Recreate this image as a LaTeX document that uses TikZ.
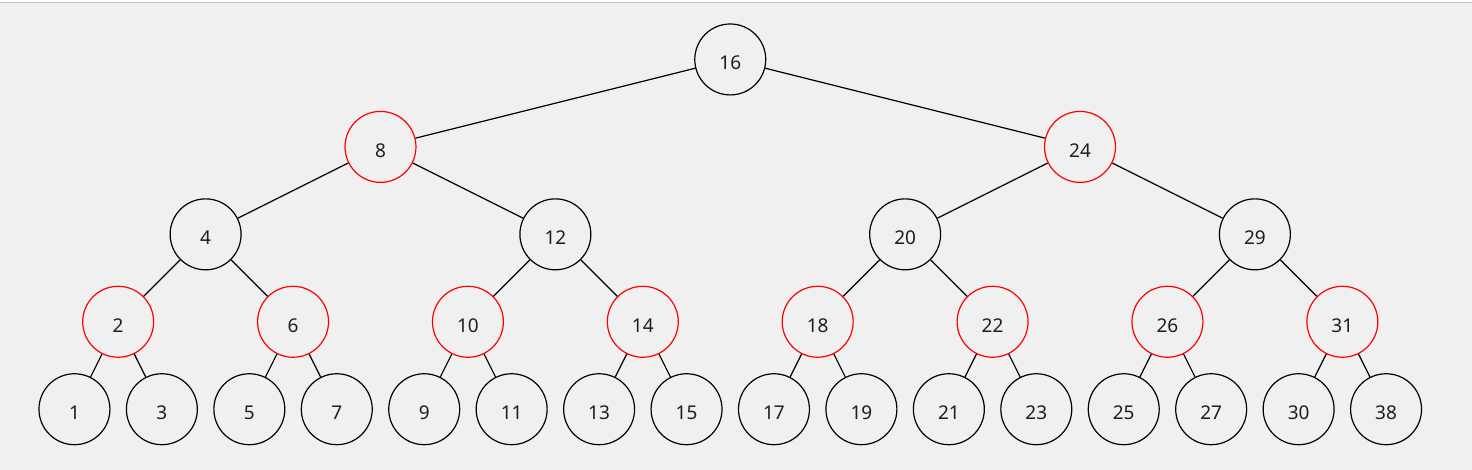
\documentclass[tikz,border=0pt]{standalone}
\usepackage{fontspec}
\setmainfont{Noto Sans}
\usepackage{tikz}

\definecolor{panel}{HTML}{F0F0F0}
\definecolor{rim}{HTML}{C0C0C0}
\definecolor{ink}{HTML}{1E1E1E}

\begin{document}
\begin{tikzpicture}[x=1pt, y=-1pt,
	key/.style={circle, draw=black, line width=1.2pt, minimum size=71pt, inner sep=0pt,
		text=ink, text height=21pt, text depth=0pt, font=\fontsize{19}{22}\selectfont},
	redkey/.style={key, draw=red},
	link/.style={line width=1.2pt, black}]

	% ---- parameters

	\def\leafx{74}
	\def\topy{59.5}
	\def\dx{87.5}
	\def\dy{87.5}

	% ---- frame

	\fill[white] (0,0) rectangle (1472,470);
	\fill[panel] (0,3.5) rectangle (1472,470);
	\draw[rim, line width=1pt] (0,3) -- (1472,3);
	\useasboundingbox (0,0) rectangle (1472,470);

	% ---- keys, level by level

	\foreach \d/\vals in {0/{16}, 1/{8,24}, 2/{4,12,20,29}, 3/{2,6,10,14,18,22,26,31},
		4/{1,3,5,7,9,11,13,15,17,19,21,23,25,27,30,38}} {
		\ifodd\d
			\def\look{redkey}
		\else
			\def\look{key}
		\fi
		\foreach \v [count=\c from 0] in \vals {
			\node[\look] (n\d-\c) at ({\leafx+\dx*((\c+0.5)*2^(4-\d)-0.5)}, {\topy+\dy*\d}) {\v};
		}
	}

	% ---- links

	\foreach \d in {1,...,4} {
		\pgfmathtruncatemacro{\up}{\d-1}
		\pgfmathtruncatemacro{\last}{2^\d-1}
		\foreach \c in {0,...,\last} {
			\pgfmathtruncatemacro{\q}{\c/2}
			\draw[link] (n\up-\q) -- (n\d-\c);
		}
	}

\end{tikzpicture}
\end{document}
